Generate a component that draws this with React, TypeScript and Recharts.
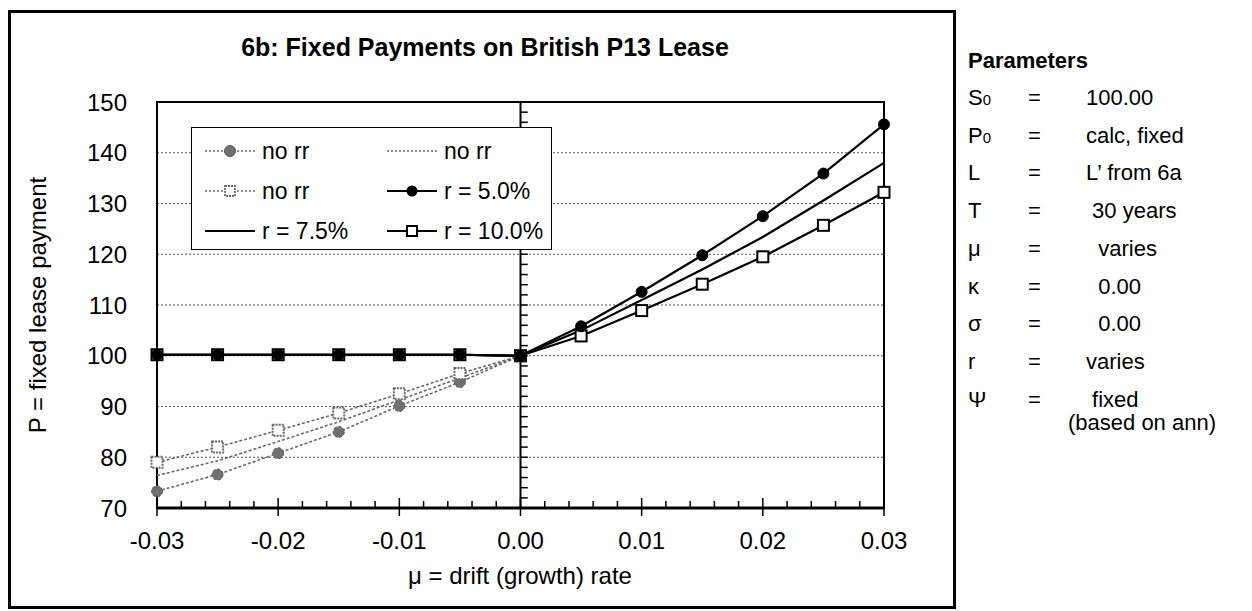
import React from 'react';
import {
  LineChart, Line, XAxis, YAxis, CartesianGrid, ReferenceLine, ReferenceArea,
} from 'recharts';

// drift rate mu
const MU = [-0.03, -0.025, -0.02, -0.015, -0.01, -0.005, 0, 0.005, 0.01, 0.015, 0.02, 0.025, 0.03];

// fixed lease payment P
const NO_RR_CIRCLE = [73.3, 76.6, 80.8, 85.0, 90.1, 94.8, 100.0, null, null, null, null, null, null];
const NO_RR_PLAIN = [76.4, 79.3, 83.1, 87.0, 91.3, 95.6, 100.0, null, null, null, null, null, null];
const NO_RR_SQUARE = [79.0, 82.0, 85.3, 88.7, 92.5, 96.5, 100.0, null, null, null, null, null, null];
const R_5 = [100.2, 100.2, 100.2, 100.2, 100.2, 100.2, 100.0, 105.8, 112.6, 119.8, 127.5, 135.9, 145.6];
const R_75 = [100.2, 100.2, 100.2, 100.2, 100.2, 100.2, 100.0, 105.0, 111.0, 117.0, 123.4, 130.6, 138.0];
const R_10 = [100.2, 100.2, 100.2, 100.2, 100.2, 100.2, 100.0, 103.9, 108.9, 114.1, 119.5, 125.7, 132.2];

const Y_TICKS = [70, 80, 90, 100, 110, 120, 130, 140, 150];
const X_LABELS = ['-0.03', '-0.02', '-0.01', '0.00', '0.01', '0.02', '0.03'];

// minor ticks: every 0.002 on x, every 2 on y
const X_TICKS = Array.from({ length: 31 }, (_, i) => Number((-0.03 + i * 0.002).toFixed(3)));
const Y_MINOR = Array.from({ length: 41 }, (_, i) => 70 + i * 2);

const PARAMS: [React.ReactNode, string][] = [
  [<span>S<span style={{ fontSize: 15 }}>0</span></span>, '100.00'],
  [<span>P<span style={{ fontSize: 15 }}>0</span></span>, 'calc, fixed'],
  ['L', 'L\u2019 from 6a'],
  ['T', ' 30 years'],
  ['\u03bc', '  varies'],
  ['\u03ba', '  0.00'],
  ['\u03c3', '  0.00'],
  ['r', 'varies'],
  ['\u03a8', ' fixed'],
];

const data = MU.map((mu, i) => ({
  mu,
  noRrCircle: NO_RR_CIRCLE[i],
  noRrPlain: NO_RR_PLAIN[i],
  noRrSquare: NO_RR_SQUARE[i],
  r5: R_5[i],
  r75: R_75[i],
  r10: R_10[i],
}));

const GRAY = '#6a6a6a';
const FONT = '"Liberation Sans", Arial, sans-serif';

function XTick(props: any) {
  const { x, y, payload } = props;
  const v = payload.value;
  const major = Math.abs(v * 100 - Math.round(v * 100)) < 1e-6;
  const idx = Math.round(v * 100) + 3;
  return (
    <g>
      {major ? (
        <>
          <line x1={x} x2={x} y1={y - 10} y2={y + 8} stroke="#000" strokeWidth={1.5} />
          <text x={x} y={y + 41} textAnchor="middle" fontSize={24} fill="#000" fontFamily={FONT}>
            {X_LABELS[idx]}
          </text>
        </>
      ) : (
        <line x1={x} x2={x} y1={y - 7} y2={y} stroke="#000" strokeWidth={1.5} />
      )}
    </g>
  );
}

function squareDot(stroke: string, dash?: string) {
  return (props: any) => {
    const { cx, cy, index } = props;
    if (cx == null || cy == null || props.value == null) return <g key={index} />;
    return (
      <rect key={index} x={cx - 5.5} y={cy - 5.5} width={11} height={11}
        fill="#fff" stroke={stroke} strokeWidth={2} strokeDasharray={dash} />
    );
  };
}

function LegendIcon({ kind }: { kind: string }) {
  const gray = kind.startsWith('g');
  const stroke = gray ? GRAY : '#000';
  const dash = gray ? '2 2' : undefined;
  return (
    <svg width={50} height={16} style={{ display: 'block' }}>
      <line x1={0} x2={50} y1={8} y2={8} stroke={stroke} strokeWidth={gray ? 1.5 : 2} strokeDasharray={dash} />
      {kind === 'gCircle' && <circle cx={25} cy={8} r={5.5} fill="#707070" stroke="#555" />}
      {kind === 'gSquare' && <rect x={20} y={3} width={10} height={10} fill="#fff" stroke={GRAY} strokeWidth={1.8} strokeDasharray="2 1" />}
      {kind === 'bCircle' && <circle cx={25} cy={8} r={5.5} fill="#000" />}
      {kind === 'bSquare' && <rect x={20} y={3} width={10} height={10} fill="#fff" stroke="#000" strokeWidth={2} />}
    </svg>
  );
}

const LEGEND_ITEMS = [
  { kind: 'gCircle', label: 'no rr' }, { kind: 'gPlain', label: 'no rr' },
  { kind: 'gSquare', label: 'no rr' }, { kind: 'bCircle', label: 'r = 5.0%' },
  { kind: 'bLine', label: 'r = 7.5%' }, { kind: 'bSquare', label: 'r = 10.0%' },
];

export default function App() {
  return (
    <div style={{ position: 'absolute', left: 0, top: 0, width: 1252, height: 611, background: '#fff', fontFamily: FONT, color: '#000' }}>
      {/* chart frame */}
      <div style={{ position: 'absolute', left: 8, top: 10, width: 942, height: 593, border: '3px solid #000' }} />

      <div style={{ position: 'absolute', left: 0, top: 0 }}>
        <LineChart width={960} height={611} data={data}
          margin={{ top: 102, right: 76, bottom: 63, left: 97 }}>
          <CartesianGrid horizontal vertical={false} stroke="#555" strokeDasharray="2 2" />
          <XAxis dataKey="mu" type="number" domain={[-0.03, 0.03]} ticks={X_TICKS} interval={0}
            tickSize={0} tickMargin={0} height={40} tick={<XTick />}
            axisLine={{ stroke: '#000', strokeWidth: 3 }} />
          <YAxis type="number" domain={[70, 150]} ticks={Y_TICKS} interval={0} width={60}
            tickSize={0} tickMargin={30} axisLine={false} tickLine={false}
            tick={{ fontSize: 24, fill: '#000', fontFamily: FONT }} />
          <ReferenceArea x1={-0.03} x2={0.03} y1={70} y2={150} fill="none" stroke="#000" strokeWidth={2} />
          <ReferenceLine x={0} stroke="#000" strokeWidth={2} />
          {Y_MINOR.map((v) => (
            <ReferenceLine key={v} segment={[{ x: 0, y: v }, { x: 0.0006, y: v }]} stroke="#000" strokeWidth={1.5} />
          ))}
          <Line type="linear" dataKey="noRrPlain" stroke={GRAY} strokeWidth={1.6} strokeDasharray="3 2"
            dot={false} isAnimationActive={false} />
          <Line type="linear" dataKey="noRrCircle" stroke={GRAY} strokeWidth={1.6} strokeDasharray="3 2"
            dot={{ r: 5.5, fill: '#707070', stroke: '#555', strokeWidth: 1 }} isAnimationActive={false} />
          <Line type="linear" dataKey="noRrSquare" stroke={GRAY} strokeWidth={1.6} strokeDasharray="3 2"
            dot={squareDot(GRAY, '2 1')} isAnimationActive={false} />
          <Line type="linear" dataKey="r75" stroke="#000" strokeWidth={2.2} dot={false} isAnimationActive={false} />
          <Line type="linear" dataKey="r10" stroke="#000" strokeWidth={2.2} dot={squareDot('#000')} isAnimationActive={false} />
          <Line type="linear" dataKey="r5" stroke="#000" strokeWidth={2.2}
            dot={{ r: 5.5, fill: '#000', stroke: '#000', strokeWidth: 1 }} isAnimationActive={false} />
        </LineChart>
      </div>

      {/* title */}
      <div style={{ position: 'absolute', left: 135, width: 700, top: 32, textAlign: 'center', fontSize: 25, fontWeight: 'bold', lineHeight: '30px' }}>
        6b: Fixed Payments on British P13 Lease
      </div>

      {/* axis titles */}
      <div style={{ position: 'absolute', left: 38, top: 305, width: 0, height: 0 }}>
        <div style={{ position: 'absolute', transform: 'translate(-50%, -50%) rotate(-90deg)', whiteSpace: 'nowrap', fontSize: 24 }}>
          P = fixed lease payment
        </div>
      </div>
      <div style={{ position: 'absolute', left: 270, width: 500, top: 562, textAlign: 'center', fontSize: 24 }}>
        {'\u03bc'} = drift (growth) rate
      </div>

      {/* legend */}
      <div style={{ position: 'absolute', left: 191, top: 127, width: 359, height: 121, border: '1.5px solid #000', background: '#fff' }}>
        {LEGEND_ITEMS.map((it, i) => {
          const col = i % 2;
          const row = Math.floor(i / 2);
          return (
            <div key={i} style={{ position: 'absolute', left: col === 0 ? 13 : 195, top: 9 + row * 40, display: 'flex', alignItems: 'center', height: 28 }}>
              <LegendIcon kind={it.kind} />
              <span style={{ marginLeft: 7, fontSize: 23 }}>{it.label}</span>
            </div>
          );
        })}
      </div>

      {/* parameters panel */}
      <div style={{ position: 'absolute', left: 968, top: 48, fontSize: 22, fontWeight: 'bold', lineHeight: '26px' }}>Parameters</div>
      {PARAMS.map(([sym, val], i) => (
        <div key={i} style={{ position: 'absolute', left: 968, top: 87 + i * 37.7, fontSize: 22, whiteSpace: 'pre', height: 22, lineHeight: '22px' }}>
          <span style={{ position: 'absolute', left: 0 }}>{sym}</span>
          <span style={{ position: 'absolute', left: 60 }}>=</span>
          <span style={{ position: 'absolute', left: 118 }}>{val}</span>
        </div>
      ))}
      <div style={{ position: 'absolute', left: 1068, top: 413, fontSize: 22, whiteSpace: 'nowrap', lineHeight: '20px' }}>(based on ann)</div>
    </div>
  );
}
